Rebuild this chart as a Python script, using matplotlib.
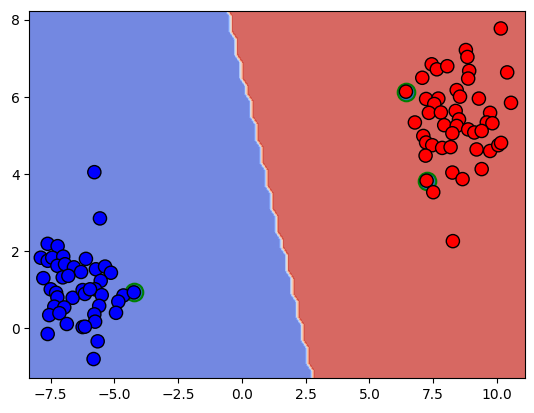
import matplotlib
matplotlib.use("Agg")
import matplotlib.pyplot as plt
import numpy as np

# class 0 (blue) samples
blue_x = [-5.79, -5.57, -7.62, -7.23, -7.89, -7.62, -7.44, -7.01, -7.24, -6.94,
          -6.59, -6.12, -6.31, -7.03, -6.81, -7.79, -5.73, -5.37, -5.14, -5.54,
          -7.50, -7.29, -7.24, -6.64, -6.25, -6.16, -5.76, -5.50, -4.65, -4.85,
          -4.24, -7.36, -6.97, -7.56, -7.16, -5.60, -4.94, -5.79, -5.76, -6.87,
          -6.25, -6.16, -7.62, -5.66, -5.82, -5.96]
blue_y = [4.05, 2.85, 2.19, 2.13, 1.83, 1.75, 1.83, 1.86, 1.62, 1.66,
          1.58, 1.80, 1.46, 1.32, 1.36, 1.30, 1.53, 1.60, 1.44, 1.23,
          1.01, 0.92, 0.80, 0.79, 0.99, 0.89, 1.01, 0.86, 0.85, 0.69,
          0.93, 0.56, 0.54, 0.34, 0.39, 0.58, 0.40, 0.36, 0.17, 0.11,
          0.03, 0.04, -0.15, -0.34, -0.80, 1.01]

# class 1 (red) samples
red_x = [10.15, 8.78, 8.84, 7.44, 7.64, 8.05, 10.40, 8.91, 8.87, 7.07,
         6.43, 8.42, 8.55, 9.29, 7.22, 7.70, 7.54, 10.55, 7.33, 7.80,
         8.38, 8.51, 9.73, 6.78, 9.60, 9.82, 7.93, 8.42, 8.87, 9.11,
         9.40, 7.11, 8.25, 7.22, 7.46, 7.85, 8.18, 9.20, 9.73, 10.05,
         10.16, 7.20, 9.40, 8.25, 8.65, 7.24, 7.50, 8.27]
red_y = [7.78, 7.22, 7.04, 6.85, 6.72, 6.80, 6.64, 6.68, 6.48, 6.50,
         6.14, 6.18, 6.01, 5.96, 5.95, 5.96, 5.82, 5.85, 5.59, 5.60,
         5.64, 5.42, 5.59, 5.34, 5.34, 5.32, 5.27, 5.25, 5.16, 5.08,
         5.12, 4.99, 5.06, 4.82, 4.75, 4.68, 4.70, 4.64, 4.60, 4.75,
         4.81, 4.48, 4.13, 4.04, 3.87, 3.83, 3.53, 2.26]

# support vectors (circled in green)
sv_blue = [-4.24, 0.93]
sv_red = [[6.43, 6.14], [7.24, 3.83]]

X = np.column_stack([blue_x + red_x, blue_y + red_y])
y = np.array([0] * len(blue_x) + [1] * len(red_x))
sv = np.array([sv_blue] + sv_red)

# hard-margin linear boundary from the support vectors
r1, r2 = np.array(sv_red[0]), np.array(sv_red[1])
d = r2 - r1
w = np.array([-d[1], d[0]])
w = w / np.linalg.norm(w)
if w @ r1 < w @ np.array(sv_blue):
    w = -w
b = -(w @ r1 + w @ np.array(sv_blue)) / 2

# mesh to plot the decision regions
h = 0.2
x_min, x_max = -8.34, 11.11
y_min, y_max = -1.30, 8.24
xx, yy = np.meshgrid(np.arange(x_min, x_max + h, h), np.arange(y_min, y_max + h, h))
Z = (w[0] * xx + w[1] * yy + b > 0).astype(int)

fig = plt.figure(figsize=(5.34, 4.13), dpi=100)
ax = fig.add_axes([0.0549, 0.084, 0.9288, 0.890])
ax.contourf(xx, yy, Z, cmap=plt.cm.coolwarm, alpha=0.8)
ax.scatter(sv[:, 0], sv[:, 1], s=160, linewidths=1.5, facecolors="C0", edgecolors="g")
ax.scatter(X[:, 0], X[:, 1], c=y, cmap=plt.cm.bwr, s=90, edgecolors="k")
ax.set_xlim(x_min, x_max)
ax.set_ylim(y_min, y_max)

fig.savefig("out.png", dpi=100)
